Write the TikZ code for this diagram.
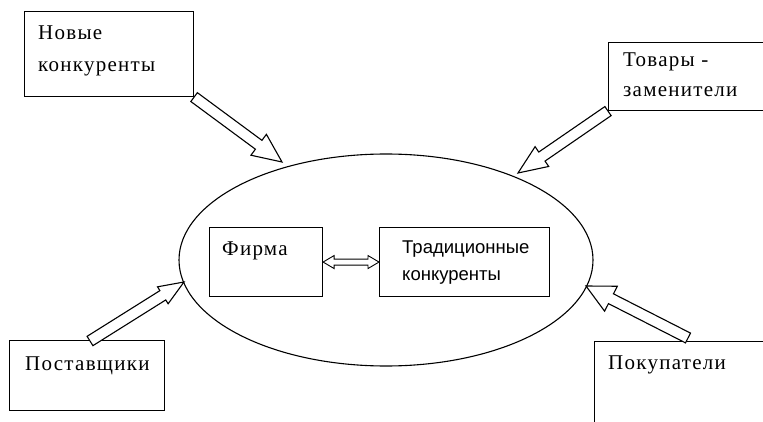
\documentclass[tikz,border=0pt]{standalone}
\usepackage{fontspec}
\setmainfont{Liberation Serif}
\newfontfamily\serifls[LetterSpace=6]{Liberation Serif}
\newfontfamily\arialf{Liberation Sans}
\usetikzlibrary{calc,shapes.geometric}
\newcommand\hollowarrow[5]{%
  \coordinate (hC) at ($(#2)!#5!(#1)$);
  \draw[harrow] ($(#1)!#3!90:(#2)$) -- ($(hC)!#3!90:(#2)$) -- ($(hC)!#4!90:(#2)$) -- (#2)
    -- ($(hC)!#4!-90:(#2)$) -- ($(hC)!#3!-90:(#2)$) -- ($(#1)!#3!-90:(#2)$) -- cycle;
}
\begin{document}
\begin{tikzpicture}[x=1pt,y=-1pt,
  box/.style={draw, line width=1.1pt, inner sep=0pt, anchor=north west},
  lbl/.style={anchor=base west, inner sep=0pt, font=\serifls\fontsize{21}{25}\selectfont},
  sans/.style={anchor=base west, inner sep=0pt, font=\arialf\fontsize{18.5}{22}\selectfont},
  harrow/.style={draw, line width=1.1pt, fill=white, line join=miter}]
\useasboundingbox (0,0) rectangle (763,422);
\clip (0,0) rectangle (763,422);

% environment ellipse
\node[draw, ellipse, line width=1.1pt, inner sep=0pt, minimum width=414pt, minimum height=212pt] (env) at (386,260) {};

% boxes
\node[box, minimum width=169pt, minimum height=85pt] (nk) at (24,11) {};
\node[box, minimum width=175pt, minimum height=68pt] (tz) at (608,42) {};
\node[box, minimum width=155pt, minimum height=70pt] (ps) at (9,340) {};
\node[box, minimum width=185pt, minimum height=100pt] (pk) at (594,341) {};
\node[box, minimum width=113pt, minimum height=69pt] (firm) at (209,227) {};
\node[box, minimum width=170pt, minimum height=69pt] (trad) at (379,227) {};

% texts
\node[lbl] (nk1) at (38,40) {Новые};
\node[lbl] (nk2) at (38,72) {конкуренты};
\node[lbl] (tz1) at (623,67) {Товары -};
\node[lbl] (tz2) at (623,97) {заменители};
\node[lbl] (ps1) at (25,370) {Поставщики};
\node[lbl] (pk1) at (608,369) {Покупатели};
\node[lbl] (fi1) at (222,255) {Фирма};
\node[sans] (tr1) at (402,254) {Традиционные};
\node[sans] (tr2) at (402,280) {конкуренты};

% arrow ends
\coordinate (t1) at (282,162);
\coordinate (t2) at (518,173);
\coordinate (t3) at (184,282);
\coordinate (t4) at (586,286);
\coordinate (s3) at ($(ps.north west)+(81,1)$);
\coordinate (s4) at ($(pk.north west)+(94,-3)$);

\hollowarrow{nk.south east}{t1}{5.5pt}{13pt}{29pt}
\hollowarrow{tz.south west}{t2}{5.5pt}{12pt}{29pt}
\hollowarrow{s3}{t3}{5.5pt}{10pt}{25pt}
\hollowarrow{s4}{t4}{5.5pt}{14pt}{28pt}

% double arrow between firm and traditional competitors
\coordinate (dA) at ($(firm.east)+(0,0)$);
\coordinate (dB) at ($(trad.west)+(0,0)$);
\coordinate (c1) at ($(dA)!11pt!(dB)$);
\coordinate (c2) at ($(dB)!11pt!(dA)$);
\draw[harrow, line width=0.9pt] (dA) -- ($(c1)!6.5pt!90:(dB)$) -- ($(c1)!3pt!90:(dB)$) -- ($(c2)!3pt!90:(dB)$)
  -- ($(c2)!6.5pt!90:(dB)$) -- (dB) -- ($(c2)!6.5pt!-90:(dB)$) -- ($(c2)!3pt!-90:(dB)$)
  -- ($(c1)!3pt!-90:(dB)$) -- ($(c1)!6.5pt!-90:(dB)$) -- cycle;
\end{tikzpicture}
\end{document}
